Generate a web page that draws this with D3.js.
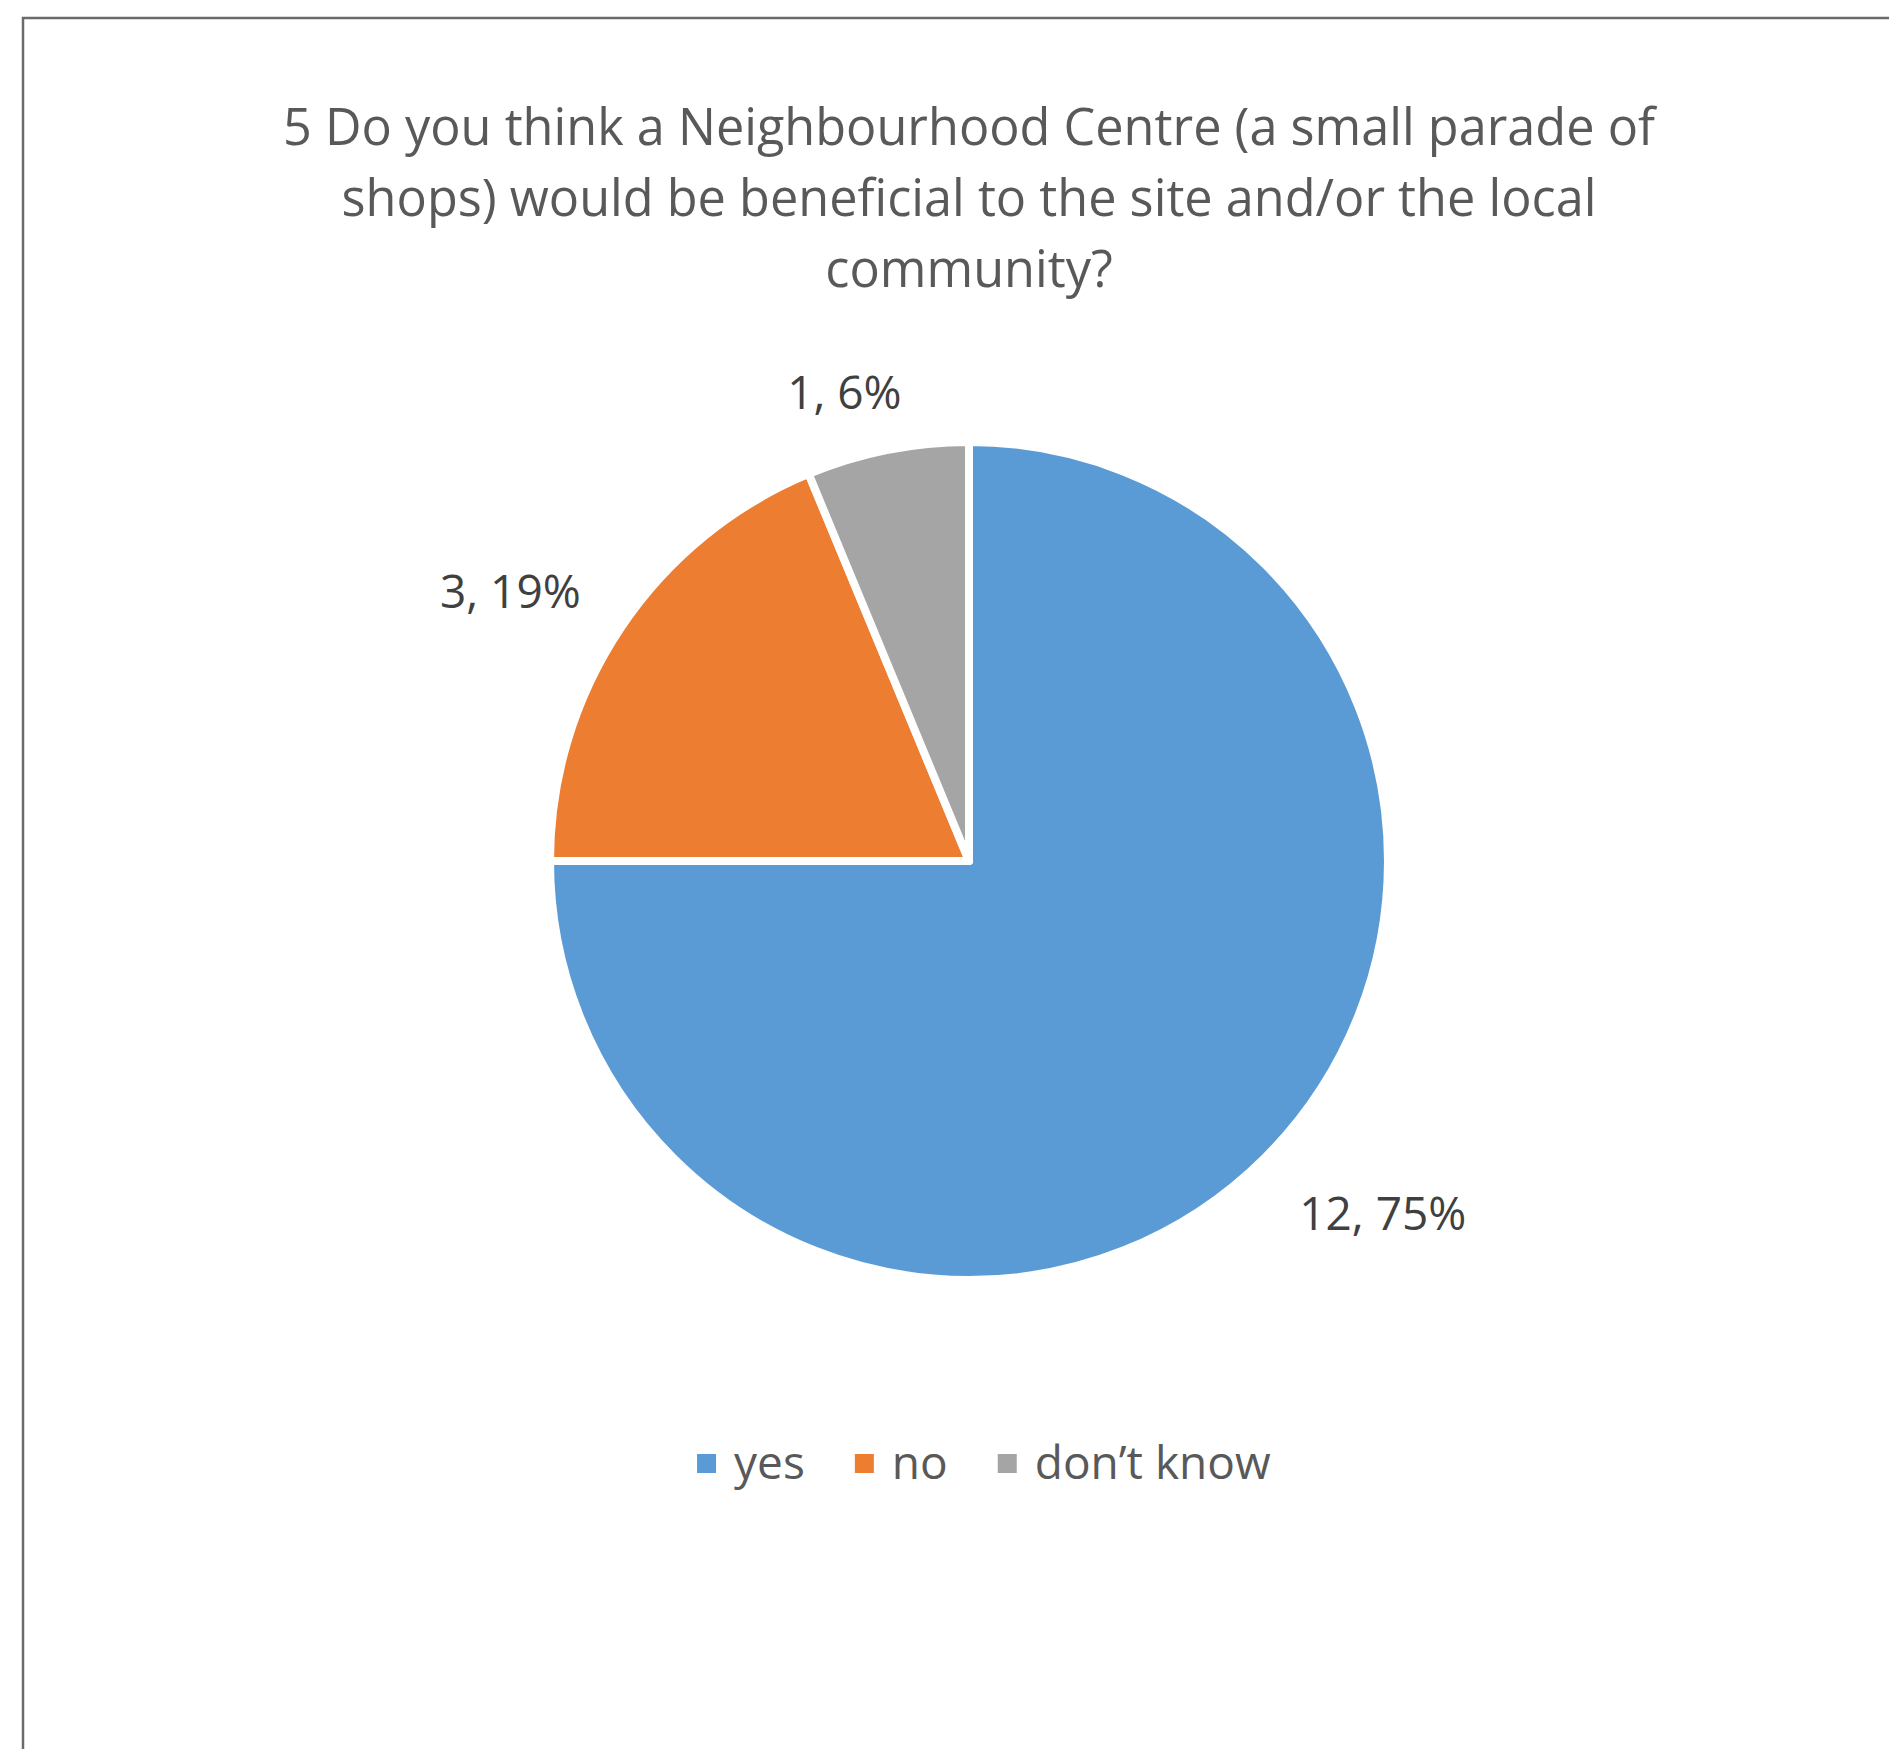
<!DOCTYPE html>
<html lang="en">
<head>
<meta charset="UTF-8">
<script src="https://d3js.org/d3.v7.min.js"></script>
<title>Neighbourhood Centre</title>
<style>
  html, body { margin: 0; padding: 0; background: #fff; overflow: hidden; }
  text { font-family: "Open Sans", "Noto Sans", sans-serif; }
</style>
</head>
<body>
<div id="chart"></div>
<script>
const width = 1889;
const height = 1749;

// data
const categories = ["yes", "no", "don\u2019t know"];
const counts = [12, 3, 1];
const colors = ["#5B9BD5", "#ED7D31", "#A5A5A5"];
const titleLines = [
  "5 Do you think a Neighbourhood Centre (a small parade of",
  "shops) would be beneficial to the site and/or the local",
  "community?"
];

const cx = 969, cy = 861, radius = 419;

const svg = d3.select("#chart").append("svg")
  .attr("width", width)
  .attr("height", height);

// chart frame (only top and left edges are inside the picture)
svg.append("rect")
  .attr("x", 23).attr("y", 18)
  .attr("width", width).attr("height", height)
  .attr("fill", "#fff")
  .attr("stroke", "#6b6b6b")
  .attr("stroke-width", 2.5);

// title, squeezed horizontally to look like Calibri
const titleG = svg.append("g");
const titleText = titleG.selectAll("text")
  .data(titleLines)
  .enter().append("text")
  .attr("x", 0)
  .attr("y", (d, i) => 145 + i * 71)
  .attr("text-anchor", "middle")
  .attr("fill", "#595959")
  .style("font-size", "52px")
  .text(d => d);
const natural = titleText.nodes()[0].getComputedTextLength();
const sx = 1372 / natural;
titleG.attr("transform", `translate(${cx},0) scale(${sx},1)`);

// pie
const total = d3.sum(counts);
const data = categories.map((c, i) => ({ name: c, value: counts[i], color: colors[i] }));
const pie = d3.pie().sort(null).value(d => d.value);
const arcs = pie(data);
const arc = d3.arc().innerRadius(0).outerRadius(radius);

const pieG = svg.append("g").attr("transform", `translate(${cx},${cy})`);
pieG.selectAll("path")
  .data(arcs)
  .enter().append("path")
  .attr("d", arc)
  .attr("fill", d => d.data.color)
  .attr("stroke", "#fff")
  .attr("stroke-width", 8)
  .attr("stroke-linejoin", "round");

// data labels outside the pie, box nearest corner at labelGap from the edge
const labelGap = 48;
const labelSize = 46;
const capH = labelSize * 0.714;
pieG.selectAll("text.label")
  .data(arcs)
  .enter().append("text")
  .attr("class", "label")
  .attr("fill", "#404040")
  .style("font-size", labelSize + "px")
  .text(d => `${d.data.value}, ${Math.round(d.data.value / total * 100)}%`)
  .each(function (d) {
    const a = (d.startAngle + d.endAngle) / 2;
    const dx = Math.sin(a), dy = -Math.cos(a);
    const px = dx * (radius + labelGap), py = dy * (radius + labelGap);
    const w = this.getComputedTextLength();
    const tx = Math.max(-1, Math.min(1, dx * 3));
    const ty = Math.max(-1, Math.min(1, dy * 3));
    const left = px - w * (1 - tx) / 2;
    const top = py - capH * (1 - ty) / 2;
    d3.select(this)
      .attr("x", left)
      .attr("y", top + capH + 6);
  });

// legend
const legendY = 1479;
const legend = svg.append("g");
const items = legend.selectAll("g")
  .data(data)
  .enter().append("g");
items.append("rect")
  .attr("width", 19).attr("height", 19)
  .attr("y", legendY - 25)
  .attr("fill", d => d.color);
items.append("text")
  .attr("x", 37)
  .attr("y", legendY)
  .attr("fill", "#595959")
  .style("font-size", "46px")
  .text(d => d.name);
let xOff = 0;
const itemGap = 50;
items.each(function () {
  d3.select(this).attr("transform", `translate(${xOff},0)`);
  xOff += this.getBBox().width + itemGap;
});
const legendW = xOff - itemGap;
legend.attr("transform", `translate(${cx + 15 - legendW / 2},0)`);
</script>
</body>
</html>
